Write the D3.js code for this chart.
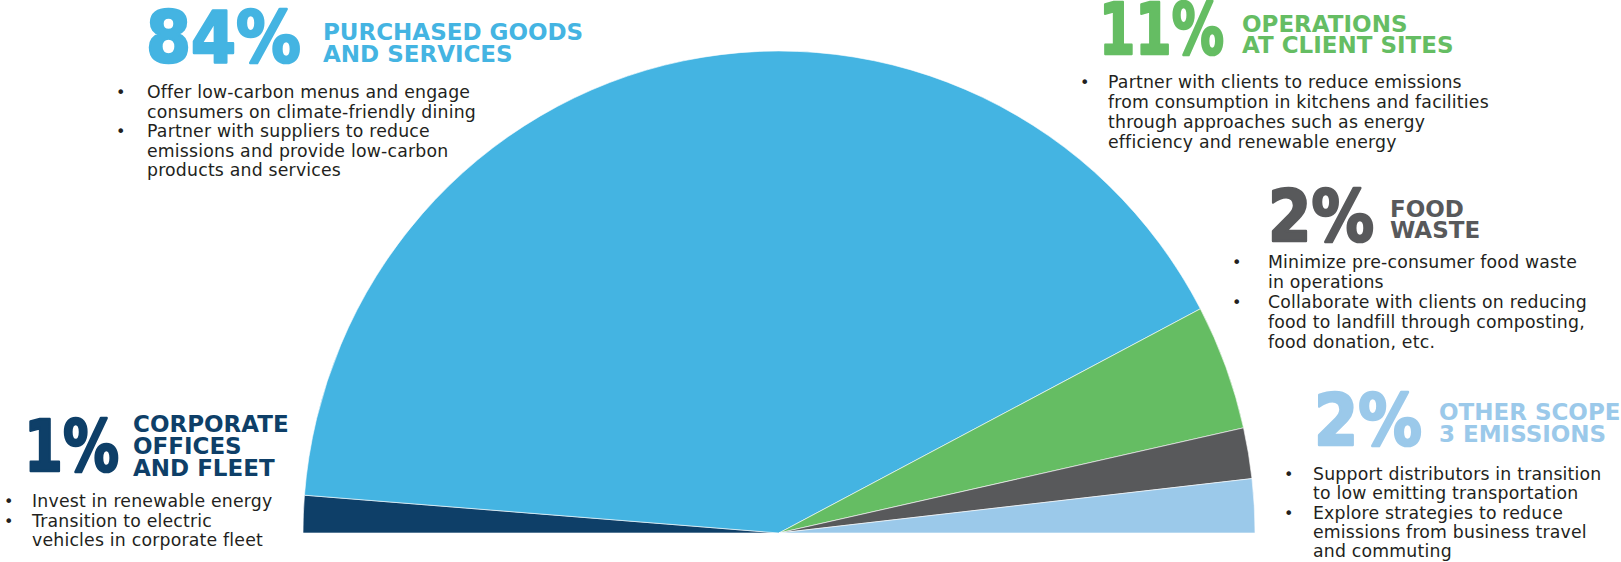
<!DOCTYPE html>
<html>
<head>
<meta charset="utf-8">
<script src="https://cdn.jsdelivr.net/npm/d3@7"></script>
<style>
  html, body { margin: 0; padding: 0; background: #fff; }
  svg { display: block; }
</style>
</head>
<body>
<svg id="chart" width="1621" height="562"></svg>
<script>
// ---- data ----
const categories = ["Corporate offices and fleet", "Purchased goods and services", "Operations at client sites", "Food waste", "Other scope 3 emissions"];
// slice shares as drawn in the picture (left to right across the half circle)
const sliceShares = [2.5, 82.1, 8.4, 3.4, 3.6];
// percentage labels as printed
const pctLabels = ["1%", "84%", "11%", "2%", "2%"];
const titleLines = [
  ["CORPORATE", "OFFICES", "AND FLEET"],
  ["PURCHASED GOODS", "AND SERVICES"],
  ["OPERATIONS", "AT CLIENT SITES"],
  ["FOOD", "WASTE"],
  ["OTHER SCOPE", "3 EMISSIONS"]
];
const bulletLines = [
  [["Invest in renewable energy"], ["Transition to electric", "vehicles in corporate fleet"]],
  [["Offer low-carbon menus and engage", "consumers on climate-friendly dining"], ["Partner with suppliers to reduce", "emissions and provide low-carbon", "products and services"]],
  [["Partner with clients to reduce emissions", "from consumption in kitchens and facilities", "through approaches such as energy", "efficiency and renewable energy"]],
  [["Minimize pre-consumer food waste", "in operations"], ["Collaborate with clients on reducing", "food to landfill through composting,", "food donation, etc."]],
  [["Support distributors in transition", "to low emitting transportation"], ["Explore strategies to reduce", "emissions from business travel", "and commuting"]]
];

// ---- styles / layout ----
const colors = ["#0E3F68", "#44B4E2", "#65BD63", "#58595B", "#9BC9EA"];
const layout = [
  { num: [24, 471], numW: 95, title: [133, 432], tstep: 22, dot: 4, text: 32, b0: 507, step: 19.5 },
  { num: [146, 62], numW: 155, title: [323, 40], tstep: 22, dot: 116, text: 147, b0: 98, step: 19.5 },
  { num: [1099, 54], numW: 125, title: [1242, 32], tstep: 21, dot: 1080, text: 1108, b0: 88, step: 20 },
  { num: [1268, 241], numW: 106, title: [1390, 217], tstep: 21, dot: 1232, text: 1268, b0: 268, step: 20 },
  { num: [1314, 445], numW: 108, title: [1439, 420], tstep: 22, dot: 1284, text: 1313, b0: 480, step: 19.3 }
];

const svg = d3.select("#chart");
const cx = 779, cy = 533, rx = 476, ry = 482;

const pie = d3.pie().sort(null).value(d => d).startAngle(-Math.PI / 2).endAngle(Math.PI / 2);
const arc = d3.arc().innerRadius(0).outerRadius(rx);

svg.append("g")
  .attr("transform", `translate(${cx},${cy}) scale(1,${ry / rx})`)
  .selectAll("path")
  .data(pie(sliceShares))
  .join("path")
  .attr("d", arc)
  .attr("fill", (d, i) => colors[i])
  .attr("stroke", "#ffffff")
  .attr("stroke-width", 0.6)
  .attr("stroke-linejoin", "round");

const labels = svg.append("g");
categories.forEach((c, i) => {
  const L = layout[i];
  const g = labels.append("g");
  const num = g.append("text")
    .attr("x", 0).attr("y", 0)
    .attr("fill", colors[i])
    .attr("stroke", colors[i])
    .attr("stroke-width", 2.6)
    .attr("stroke-linejoin", "round")
    .style("font-family", "'DejaVu Sans', sans-serif")
    .style("font-weight", 700)
    .style("font-size", "72px")
    .text(pctLabels[i]);
  const natural = num.node().getComputedTextLength() || L.numW;
  num.attr("transform", `translate(${L.num[0]},${L.num[1]}) scale(${L.numW / natural},1)`);
  titleLines[i].forEach((t, j) => {
    g.append("text")
      .attr("x", L.title[0]).attr("y", L.title[1] + j * L.tstep)
      .attr("fill", colors[i])
      .style("font-family", "'DejaVu Sans', sans-serif")
      .style("font-weight", 700)
      .style("font-size", "23px")
      .text(t);
  });
  let line = 0;
  bulletLines[i].forEach(b => {
    g.append("text")
      .attr("x", L.dot).attr("y", L.b0 + line * L.step)
      .attr("fill", "#231F20")
      .style("font-family", "'DejaVu Sans', sans-serif")
      .style("font-size", "16px")
      .text("•");
    b.forEach(t => {
      g.append("text")
        .attr("x", L.text).attr("y", L.b0 + line * L.step)
        .attr("fill", "#231F20")
        .style("font-family", "'DejaVu Sans', sans-serif")
        .style("font-size", "17.3px")
        .style("letter-spacing", "0.2px")
        .text(t);
      line++;
    });
  });
});
</script>
</body>
</html>
